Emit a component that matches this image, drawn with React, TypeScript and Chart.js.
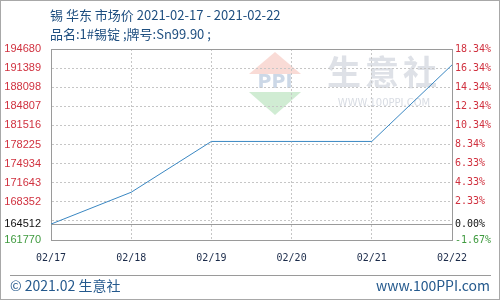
import { useEffect, useRef } from 'react';
import { Chart, registerables } from 'chart.js';

Chart.register(...registerables);

const categories = ['02/17', '02/18', '02/19', '02/20', '02/21', '02/22'];
const prices = [164512, 170000, 178750, 178750, 178750, 191937];
const baseValue = 164512;
const axisMin = 161770;
const axisMax = 194680;
const yTicks = [161770, 164512, 165061, 168352, 171643, 174934, 178225, 181516, 184807, 188098, 191389, 194680];
const leftTickLabels = ['161770', '164512', '', '168352', '171643', '174934', '178225', '181516', '184807', '188098', '191389', '194680'];
const rightTickLabels = ['-1.67%', '0.00%', '', '2.33%', '4.33%', '6.33%', '8.34%', '10.34%', '12.34%', '14.34%', '16.34%', '18.34%'];
const titleLines = ['锡 华东 市场价 2021-02-17 - 2021-02-22', '品名:1#锡锭 ;牌号:Sn99.90 ;'];
const footerLeft = '© 2021.02 生意社';
const footerRight = 'www.100PPI.com';
const watermarkName = '生意社';
const watermarkUrl = 'WWW.100PPI.COM';

const RED = '#d0313f';
const GREEN = '#3f9a3f';
const BLACK = '#111111';
const FRAME = '#9a9a9a';
const GRID = '#c6c6c6';

const tickColor = (v: number) => (v === axisMin ? GREEN : v === baseValue ? BLACK : RED);

const decorPlugin = {
  id: 'decor',
  beforeDraw(chart: any) {
    const ctx = chart.ctx as CanvasRenderingContext2D;
    ctx.save();
    ctx.fillStyle = '#ffffff';
    ctx.fillRect(0, 0, chart.width, chart.height);
    // watermark logo
    const cx = 275, cy = 83;
    ctx.fillStyle = 'rgba(244,190,180,0.55)';
    ctx.beginPath();
    ctx.moveTo(cx - 26, cy - 9);
    ctx.lineTo(cx, cy - 31);
    ctx.lineTo(cx + 26, cy - 9);
    ctx.closePath();
    ctx.fill();
    ctx.fillStyle = 'rgba(170,220,175,0.55)';
    ctx.beginPath();
    ctx.moveTo(cx - 26, cy + 9);
    ctx.lineTo(cx, cy + 32);
    ctx.lineTo(cx + 26, cy + 9);
    ctx.closePath();
    ctx.fill();
    ctx.fillStyle = 'rgba(170,190,215,0.6)';
    ctx.font = 'bold 19px "DejaVu Sans"';
    ctx.textAlign = 'center';
    ctx.textBaseline = 'middle';
    ctx.fillText('PPI', cx, cy);
    ctx.fillStyle = 'rgba(200,205,215,0.6)';
    ctx.font = 'bold 34px "Noto Sans CJK SC"';
    const chars = Array.from(watermarkName);
    chars.forEach((c, i) => ctx.fillText(c, 344 + i * 38, 72));
    ctx.font = '10px "DejaVu Sans"';
    ctx.fillStyle = 'rgba(200,205,215,0.7)';
    ctx.fillText(watermarkUrl, 384, 103);
    ctx.restore();
  },
  afterDraw(chart: any) {
    const ctx = chart.ctx as CanvasRenderingContext2D;
    ctx.save();
    ctx.textBaseline = 'middle';
    ctx.textAlign = 'left';
    ctx.fillStyle = '#1f4f80';
    ctx.font = '13px "Noto Sans CJK SC"';
    ctx.fillText(titleLines[0], 50, 15);
    ctx.fillText(titleLines[1], 50, 34);
    // footer
    ctx.strokeStyle = FRAME;
    ctx.lineWidth = 1;
    ctx.beginPath();
    ctx.moveTo(10, 275.5);
    ctx.lineTo(491, 275.5);
    ctx.stroke();
    ctx.fillStyle = '#24598d';
    ctx.font = '14px "Noto Sans CJK SC"';
    ctx.fillText(footerLeft, 10, 286);
    ctx.textAlign = 'right';
    ctx.fillText(footerRight, 490, 286);
    // outer border
    ctx.strokeStyle = '#a8a8a8';
    ctx.strokeRect(0.5, 0.5, chart.width - 1, chart.height - 1);
    ctx.restore();
  },
};

export default function App() {
  const ref = useRef<HTMLCanvasElement>(null);
  useEffect(() => {
    const canvas = ref.current;
    if (!canvas) return;
    const chart = new Chart(canvas, {
      type: 'line',
      data: {
        labels: categories,
        datasets: [
          {
            data: prices,
            borderColor: '#3a87c2',
            borderWidth: 1,
            pointRadius: 0,
            tension: 0,
            fill: false,
            yAxisID: 'y',
          },
        ],
      },
      options: {
        responsive: false,
        animation: false,
        devicePixelRatio: 1,
        layout: { padding: { top: 49, left: 0, right: 0, bottom: 0 } },
        plugins: {
          legend: { display: false },
          tooltip: { enabled: false },
          title: { display: false },
        },
        scales: {
          x: {
            type: 'category',
            offset: false,
            grid: { color: GRID, drawTicks: false, lineWidth: 1 },
            border: { display: true, color: FRAME, dash: [2, 2] },
            ticks: {
              padding: 12,
              color: '#1b2b4a',
              font: { family: 'DejaVu Sans Mono', size: 10 },
              maxRotation: 0,
              autoSkip: false,
            },
            afterFit: (s: any) => {
              s.height = 60;
            },
          },
          y: {
            type: 'linear',
            position: 'left',
            min: axisMin,
            max: axisMax,
            afterBuildTicks: (s: any) => {
              s.ticks = yTicks.map((v) => ({ value: v }));
            },
            afterFit: (s: any) => {
              s.width = 51;
            },
            grid: {
              drawTicks: false,
              color: (c: any) =>
                c.tick && (c.tick.value === baseValue || c.tick.value === axisMax) ? FRAME : GRID,
            },
            border: {
              display: true,
              color: FRAME,
              dash: (c: any) =>
                c.tick && (c.tick.value === baseValue || c.tick.value === axisMax) ? [] : [2, 2],
            },
            ticks: {
              padding: 10,
              color: (c: any) => tickColor(c.tick.value),
              font: { family: 'Liberation Sans', size: 11 },
              callback: (_v: any, i: number) => leftTickLabels[i],
            },
          },
          y1: {
            type: 'linear',
            position: 'right',
            min: axisMin,
            max: axisMax,
            afterBuildTicks: (s: any) => {
              s.ticks = yTicks.map((v) => ({ value: v }));
            },
            afterFit: (s: any) => {
              s.width = 48;
            },
            grid: { display: false, drawTicks: false },
            border: { display: true, color: FRAME },
            ticks: {
              padding: 3,
              color: (c: any) => tickColor(c.tick.value),
              font: { family: 'DejaVu Sans Mono', size: 10 },
              callback: (_v: any, i: number) => rightTickLabels[i],
            },
          },
        },
      },
      plugins: [decorPlugin],
    });
    return () => chart.destroy();
  }, []);
  return (
    <div style={{ position: 'fixed', left: 0, top: 0, width: 500, height: 300 }}>
      <canvas ref={ref} width={500} height={300} style={{ display: 'block', width: 500, height: 300 }} />
    </div>
  );
}
